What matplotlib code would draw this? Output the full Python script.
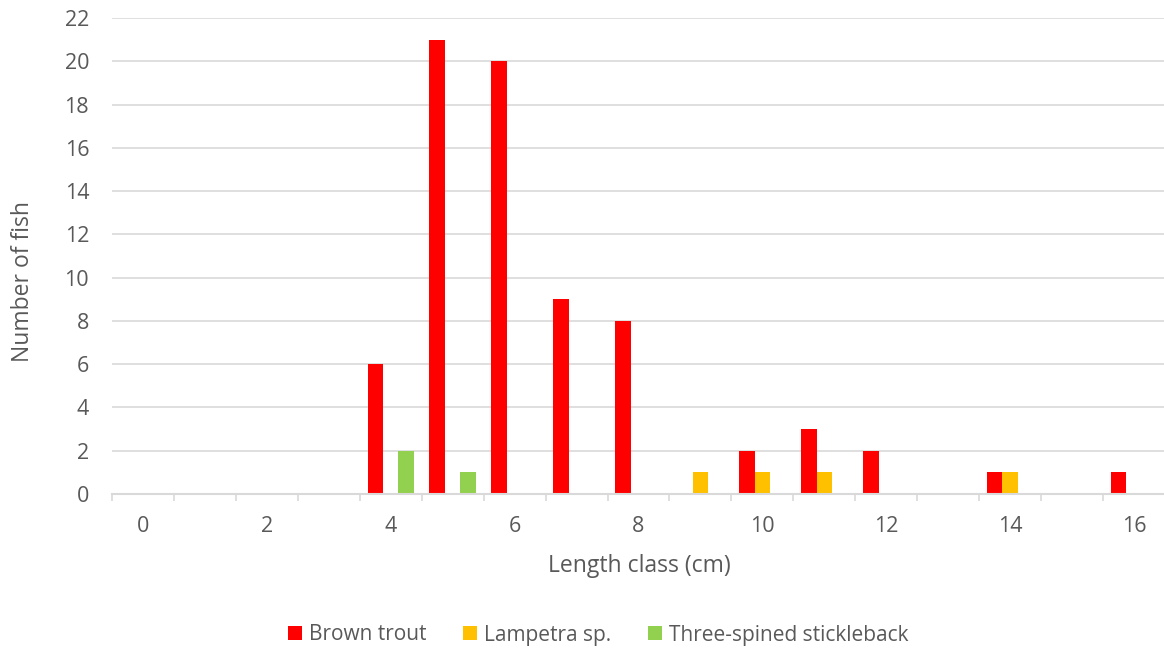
import matplotlib
matplotlib.use("Agg")
import matplotlib.pyplot as plt
from matplotlib.patches import Patch
import numpy as np

# Length classes (cm) and fish counts per species
length_classes = list(range(0, 17))
brown_trout = [0, 0, 0, 0, 6, 21, 20, 9, 8, 0, 2, 3, 2, 0, 1, 0, 1]
lampetra = [0, 0, 0, 0, 0, 0, 0, 0, 0, 1, 1, 1, 0, 0, 1, 0, 0]
stickleback = [0, 0, 0, 0, 2, 1, 0, 0, 0, 0, 0, 0, 0, 0, 0, 0, 0]

series_names = ["Brown trout", "Lampetra sp.", "Three-spined stickleback"]
series_colors = ["#FF0000", "#FFC000", "#92D050"]
series_values = [brown_trout, lampetra, stickleback]

y_ticks = list(range(0, 23, 2))

plt.rcParams["font.family"] = ["Open Sans", "DejaVu Sans"]
text_color = "#595959"
grid_color = "#D9D9D9"

W, H = 1164, 651
fig = plt.figure(figsize=(W / 100, H / 100), dpi=100)
ax = fig.add_axes([112 / W, 1 - 494 / H, (1165 - 112) / W, (494 - 18) / H])

x = np.arange(len(length_classes))
bar_w = 0.25
for i, (vals, color) in enumerate(zip(series_values, series_colors)):
    ax.bar(x + (i - 1) * bar_w, vals, width=bar_w, color=color, zorder=3)

ax.set_xlim(-0.5, len(length_classes) - 0.5)
ax.set_ylim(0, 22)

# horizontal gridlines
ax.set_yticks(y_ticks)
ax.yaxis.grid(True, color=grid_color, linewidth=1.2, zorder=0)
ax.tick_params(axis="y", length=0, pad=16.5, labelsize=15.5, labelcolor=text_color)
for lbl in ax.get_yticklabels():
    lbl.set_horizontalalignment("right")

# category boundaries as tick marks, labels at every second class
ax.set_xticks(np.arange(-0.5, len(length_classes), 1.0))
ax.set_xticklabels([])
ax.tick_params(axis="x", which="major", length=5, width=1.2, color=grid_color)
even = [c for c in length_classes if c % 2 == 0]
ax.set_xticks([length_classes.index(c) for c in even], minor=True)
ax.set_xticklabels([str(c) for c in even], minor=True)
ax.tick_params(axis="x", which="minor", length=0, pad=16, labelsize=15.5,
               labelcolor=text_color)

for side in ["top", "right", "left"]:
    ax.spines[side].set_visible(False)
ax.spines["bottom"].set_color(grid_color)
ax.spines["bottom"].set_linewidth(1.5)
ax.spines["bottom"].set_zorder(4)

fig.text(639 / W, 1 - 566 / H, "Length class (cm)", ha="center", va="center",
         fontsize=16.5, color=text_color)
fig.text(23 / W, 1 - 282 / H, "Number of fish", ha="center", va="center",
         rotation=90, fontsize=16.5, color=text_color)

handles = [Patch(facecolor=c, edgecolor="none") for c in series_colors]
fig.legend(handles, series_names, loc="center", ncol=3,
           bbox_to_anchor=(598 / W, 1 - 635 / H), frameon=False,
           fontsize=15, labelcolor=text_color, handlelength=0.67,
           handleheight=0.67, handletextpad=0.34, columnspacing=1.75)

fig.savefig("out.png", dpi=100)
